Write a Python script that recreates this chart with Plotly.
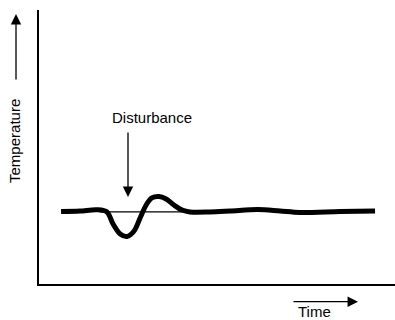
import plotly.graph_objects as go

# Response curve (arbitrary units, 0-100 on both axes)
time = [6.2, 11.5, 16.3, 19.1, 20.8, 22.8, 24.7, 26.7, 28.4, 30.1, 31.7, 33.7,
        35.7, 37.9, 40.2, 42.4, 48.0, 53.7, 61.5, 67.7, 73.3, 84.6, 94.4]
temperature = [26.46, 26.64, 27.08, 26.28, 21.90, 18.25, 17.34, 19.34, 24.09, 28.83,
               31.39, 31.93, 31.02, 28.83, 27.01, 26.28, 26.28, 26.64, 27.19, 26.64,
               26.09, 26.46, 26.64]

# Thin reference (set-point) line
baseline_time = [17.1, 41.6]
baseline_temp = [26.3, 26.3]

# Disturbance marker position
disturb_time = 25.0
disturb_temp = 31.75

FONT = "Liberation Sans, Arial, sans-serif"
ARROW = dict(showarrow=True, arrowhead=2, arrowsize=1.6, arrowwidth=1.3,
             arrowcolor="black", text="", xanchor="center", yanchor="middle")

fig = go.Figure()
fig.add_trace(go.Scatter(x=baseline_time, y=baseline_temp, mode="lines",
                         line=dict(color="black", width=1.3), hoverinfo="skip"))
fig.add_trace(go.Scatter(x=time, y=temperature, mode="lines",
                         line=dict(color="black", width=5, shape="spline", smoothing=0.9),
                         hoverinfo="skip"))

annotations = [
    # disturbance arrow
    dict(x=disturb_time, y=disturb_temp, xref="x", yref="y", ax=0, ay=-66, **ARROW),
    dict(x=31.7, y=60.9, xref="x", yref="y", text="Disturbance", showarrow=False,
         xanchor="center", yanchor="middle",
         font=dict(family=FONT, size=15, color="black")),
    # temperature label + arrow
    dict(x=-0.0674, y=0.522, xref="paper", yref="paper", text="Temperature", textangle=-90,
         showarrow=False, xanchor="center", yanchor="middle",
         font=dict(family=FONT, size=15, color="black")),
    dict(x=-0.0646, y=0.985, xref="paper", yref="paper", ax=0, ay=67, **ARROW),
    # time label + arrow
    dict(x=0.7725, y=-0.100, xref="paper", yref="paper", text="Time",
         showarrow=False, xanchor="center", yanchor="middle",
         font=dict(family=FONT, size=15, color="black")),
    dict(x=0.896, y=-0.0646, xref="paper", yref="paper", ax=-66, ay=0, **ARROW),
]

fig.update_layout(
    width=395, height=320,
    margin=dict(l=39, r=0, t=10, b=36),
    paper_bgcolor="white", plot_bgcolor="white",
    showlegend=False,
    annotations=annotations,
    xaxis=dict(range=[0, 100], showgrid=False, zeroline=False, showticklabels=False,
               ticks="", showline=True, linecolor="black", linewidth=2.2, fixedrange=True),
    yaxis=dict(range=[0, 100], showgrid=False, zeroline=False, showticklabels=False,
               ticks="", showline=True, linecolor="black", linewidth=2.2, fixedrange=True),
)

fig.write_html("out.html", config={"displayModeBar": False},
               post_script="document.body.style.margin='0px';document.body.style.overflow='hidden';")
